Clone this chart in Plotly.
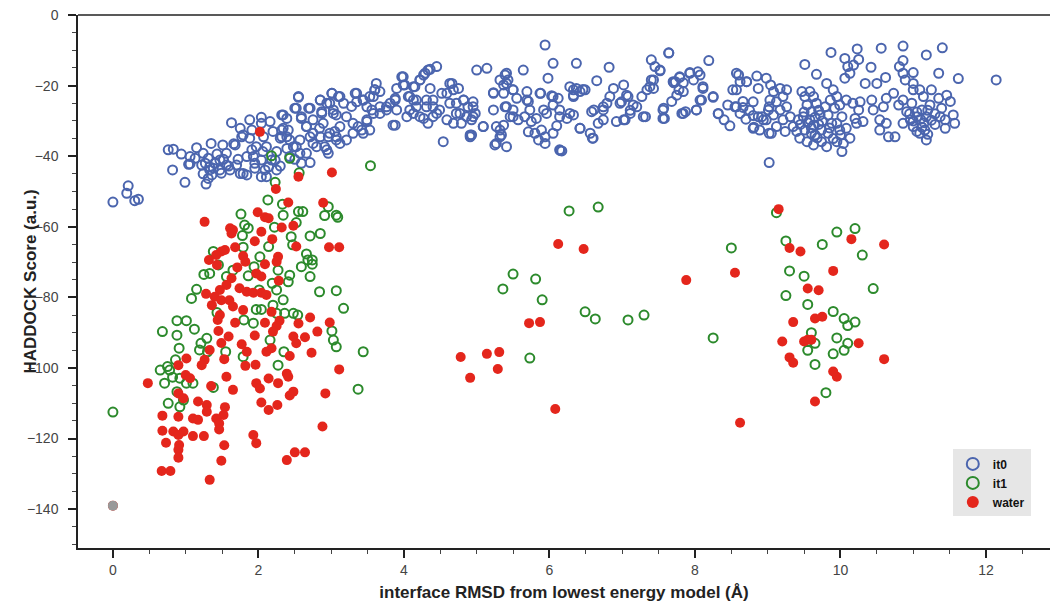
import plotly.graph_objects as go

# ---------------- data ----------------
it0_points = [
    (0.00, -53.0), (0.21, -48.4), (0.19, -50.5), (0.30, -52.6), (0.35, -52.2),
    (0.76, -38.2), (0.83, -38.0), (0.82, -43.9), (0.99, -47.4), (0.94, -39.4), (1.06, -40.1),
    (1.04, -42.3), (1.15, -37.6), (1.28, -47.9), (1.24, -39.2), (1.31, -40.6), (1.27, -42.0),
    (1.33, -43.0), (1.36, -45.3), (1.31, -46.3), (1.35, -36.4), (1.51, -36.8), (1.66, -36.5),
    (1.43, -39.4), (1.52, -40.9), (1.56, -42.5), (1.47, -43.9), (1.61, -43.9), (1.70, -42.5),
    (1.63, -30.5), (1.75, -32.1), (1.88, -29.7), (2.04, -29.0), (2.16, -30.2), (1.79, -34.0),
    (1.88, -34.9), (1.97, -37.3), (2.06, -38.7), (1.93, -40.1), (1.79, -44.9), (1.95, -43.4),
    (2.04, -45.8), (2.14, -43.0), (2.18, -41.1), (2.30, -42.8), (2.25, -38.7), (2.11, -37.3),
    (2.32, -28.3), (2.39, -29.3), (2.34, -32.1), (2.30, -34.9), (2.43, -35.4), (2.39, -37.8),
    (2.52, -37.3), (2.57, -39.2), (2.50, -40.9), (2.71, -41.8), (2.55, -23.3), (2.52, -26.4),
    (2.59, -29.3), (2.71, -26.4), (2.85, -24.1), (2.87, -27.9), (2.94, -25.0), (3.03, -26.9),
    (3.01, -22.2), (3.12, -23.1), (3.17, -25.0), (3.07, -28.3), (2.66, -31.6), (2.75, -33.5),
    (2.84, -32.1), (2.96, -34.5), (2.91, -37.3), (2.75, -36.4), (3.05, -33.0), (3.12, -36.4),
    (2.96, -39.2), (3.07, -34.5), (3.21, -35.4), (3.30, -33.5), (3.37, -31.6), (3.44, -33.5),
    (3.53, -32.6), (3.49, -30.2),
    (1.40, -42.0), (1.33, -43.9), (1.49, -44.8), (1.59, -42.8), (1.72, -40.9), (1.84, -40.1),
    (1.95, -42.0), (2.09, -43.9), (2.04, -41.1), (2.23, -41.1), (2.25, -43.9), (1.91, -38.2),
    (2.07, -34.5), (2.20, -33.0), (2.32, -34.5), (2.41, -32.6), (2.04, -30.7), (1.91, -32.6),
    (1.77, -34.5), (1.68, -36.8), (1.56, -39.2), (1.47, -41.1), (1.38, -43.4), (1.22, -42.5),
    (1.13, -40.6), (1.06, -42.2), (1.24, -45.0), (1.75, -44.9), (1.84, -45.3), (2.11, -45.8),
    (2.55, -23.1), (2.50, -26.4), (2.34, -28.3), (2.32, -32.6), (2.39, -34.5), (2.59, -28.8),
    (2.66, -31.6), (2.69, -26.4), (2.75, -29.7), (2.71, -34.5), (2.57, -35.4), (2.48, -37.3),
    (2.43, -40.1), (2.66, -39.2), (2.59, -42.0), (2.85, -24.1), (2.87, -27.4), (3.01, -22.2),
    (2.98, -25.0), (3.10, -23.1), (3.03, -27.9), (2.89, -30.7), (2.98, -33.5), (2.85, -34.5),
    (2.80, -37.3), (2.94, -38.2), (3.07, -35.4), (3.12, -31.6), (3.21, -28.8), (3.28, -25.9),
    (3.35, -22.2), (3.44, -24.1), (3.53, -23.1), (3.62, -19.4), (3.60, -21.2), (3.67, -21.7),
    (3.30, -30.7), (3.42, -32.6), (3.49, -29.7), (3.58, -27.9), (3.67, -26.0), (3.76, -26.9),
    (3.81, -25.0), (3.88, -23.6), (3.90, -20.8), (3.99, -17.5), (4.01, -19.8), (3.88, -31.2),
    (3.33, -22.2), (3.35, -24.6), (3.44, -24.1), (3.49, -26.0), (3.58, -23.1), (3.60, -21.2),
    (3.56, -26.9), (3.67, -27.9), (3.76, -26.0), (3.88, -24.1), (3.90, -26.9), (3.85, -31.2),
    (3.97, -17.5), (3.99, -19.8), (4.08, -23.1), (4.13, -20.3), (4.17, -24.1), (4.22, -18.4),
    (4.27, -17.0), (4.33, -15.6), (4.45, -14.6), (4.36, -20.8), (4.40, -24.1), (4.31, -26.0),
    (4.13, -27.9), (4.04, -28.8), (4.27, -29.3), (4.40, -28.8), (4.49, -26.9), (4.52, -22.2),
    (4.63, -19.4), (4.68, -21.2), (4.72, -25.0), (4.77, -27.9), (4.59, -29.7), (4.54, -35.9),
    (4.68, -30.7), (4.82, -24.1), (4.86, -28.8), (4.91, -34.0), (4.95, -26.0), (5.00, -15.6),
    (5.14, -15.1), (5.09, -31.6), (5.23, -22.2), (5.32, -18.4), (5.39, -17.0), (5.41, -19.4),
    (5.50, -21.2), (5.41, -26.0), (5.50, -28.8), (5.27, -36.4), (5.41, -37.3), (5.32, -34.5),
    (5.64, -15.6), (5.69, -24.1), (5.73, -26.9), (5.87, -22.2), (5.96, -27.9), (5.94, -8.5),
    (5.98, -17.9), (6.05, -13.7), (6.05, -23.1), (6.14, -28.8), (6.14, -38.2), (6.05, -33.5),
    (5.85, -35.4), (6.37, -13.7), (6.33, -21.2), (6.28, -27.9),
    (4.06, -23.1), (4.13, -24.1), (4.17, -26.0), (4.08, -26.9), (4.22, -28.8), (4.31, -24.1),
    (4.40, -26.0), (4.45, -27.9), (4.33, -30.7), (4.15, -20.3), (4.22, -18.4), (4.29, -16.5),
    (4.36, -15.4), (4.59, -22.2), (4.66, -19.4), (4.75, -20.8), (4.63, -25.0), (4.72, -27.9),
    (4.82, -24.1), (4.88, -26.0), (4.79, -30.7), (4.91, -34.5), (4.95, -28.8),
    (6.82, -14.8), (7.64, -10.8), (8.19, -12.9), (5.41, -16.5), (5.43, -18.4), (5.37, -19.8),
    (5.50, -21.2), (5.23, -22.0), (5.37, -22.2), (5.69, -21.7), (5.55, -23.6), (5.39, -26.0),
    (5.50, -26.9), (5.71, -24.5), (5.88, -22.2), (6.03, -22.9), (6.12, -23.6), (6.05, -25.5),
    (6.14, -26.9), (5.92, -26.9), (5.82, -29.3), (5.75, -30.2), (5.66, -28.8), (5.57, -29.7),
    (5.46, -28.8), (5.37, -31.2), (5.27, -31.6), (5.09, -31.6), (5.23, -26.9), (4.95, -24.6),
    (4.98, -27.9), (4.93, -29.7), (4.93, -34.0), (5.25, -36.8), (5.34, -34.0), (5.32, -32.6),
    (5.89, -32.6), (5.94, -34.5), (5.94, -36.4), (5.80, -33.5), (5.71, -33.1), (6.17, -38.5),
    (6.10, -31.4), (6.24, -29.3), (6.33, -28.3), (6.42, -32.1), (6.56, -33.5), (6.60, -34.9),
    (6.28, -20.3), (6.37, -20.8), (6.49, -21.2), (6.33, -22.7), (6.42, -21.7), (6.65, -18.6),
    (6.79, -25.0), (6.83, -23.1), (6.88, -20.8), (7.02, -19.8), (6.97, -25.0), (7.08, -23.1),
    (7.15, -25.5), (7.11, -27.9), (7.02, -29.7), (6.92, -30.2), (6.74, -29.7), (6.67, -30.7),
    (6.58, -27.4), (6.74, -26.9), (7.29, -28.8), (7.27, -23.1), (7.40, -12.7), (7.45, -14.6),
    (7.52, -15.6), (7.40, -18.4), (7.43, -20.8), (7.34, -21.2), (7.56, -26.9), (7.56, -29.3),
    (7.70, -18.9), (7.79, -17.5), (7.93, -16.5), (8.07, -17.0), (7.84, -21.7), (7.75, -22.7),
    (7.68, -24.5), (7.84, -27.9), (8.02, -26.9), (8.09, -24.1), (8.11, -20.3), (8.25, -23.1),
    (8.32, -27.9), (8.48, -31.4), (8.57, -16.5), (8.62, -18.9), (8.57, -21.2), (8.66, -24.5),
    (8.57, -26.0), (8.62, -27.9), (8.71, -18.9),
    (7.57, -26.4), (7.58, -29.3), (7.64, -10.7), (7.71, -19.2), (7.79, -17.7), (7.84, -19.2),
    (7.93, -16.3), (7.98, -18.4), (7.82, -27.9), (7.87, -27.4), (8.02, -26.9), (8.07, -24.1),
    (8.11, -20.8), (8.25, -23.3), (8.32, -28.0), (8.52, -21.2), (8.60, -17.0), (8.55, -26.0),
    (8.80, -32.1), (8.87, -28.8), (8.94, -29.7), (9.02, -26.0), (9.02, -33.5), (9.02, -41.8),
    (6.42, -32.1), (6.59, -34.9), (6.15, -38.4), (6.33, -23.1), (6.46, -21.1), (6.61, -26.9),
    (6.74, -26.0), (6.99, -24.6), (7.06, -22.7), (7.04, -29.7), (7.11, -27.0), (7.20, -26.0),
    (7.32, -28.8), (7.38, -20.3), (7.52, -15.8), (7.43, -18.4), (7.73, -18.9), (7.78, -21.2),
    (8.04, -16.1),
    (8.71, -18.9), (8.85, -17.3), (8.98, -17.9), (8.87, -20.8), (9.04, -19.8), (8.80, -24.6),
    (8.66, -26.2), (8.81, -31.8), (9.51, -14.0), (9.67, -16.8), (9.87, -10.6), (10.06, -12.3),
    (10.23, -9.6), (10.25, -12.6), (10.18, -14.2), (10.10, -14.6), (10.13, -16.5), (10.06, -17.9),
    (10.42, -14.8), (10.56, -9.4), (10.62, -17.7), (10.86, -8.8), (10.86, -12.9), (10.81, -14.6),
    (10.86, -16.5), (11.00, -16.3), (10.89, -18.4), (11.00, -19.4), (11.18, -11.3), (11.40, -9.3),
    (11.35, -16.5), (11.62, -18.0), (12.14, -18.4),
    (9.08, -21.7), (9.17, -20.8), (9.26, -21.2), (9.21, -23.1), (9.12, -24.6), (9.03, -24.1),
    (9.01, -26.9), (8.92, -28.8), (9.08, -28.3), (8.98, -29.7), (8.89, -32.6),
    (9.17, -26.9), (9.26, -26.0), (9.31, -28.8), (9.21, -29.7), (9.12, -31.6), (9.05, -33.5),
    (9.24, -33.0), (9.35, -31.6), (9.42, -29.7), (9.47, -21.7), (9.51, -23.1), (9.58, -21.7),
    (9.63, -23.1), (9.54, -25.5), (9.67, -25.0), (9.60, -27.4), (9.49, -28.8), (9.58, -29.7),
    (9.72, -28.3), (9.63, -31.2), (9.51, -32.6), (9.44, -34.9), (9.54, -35.9), (9.65, -34.0),
    (9.74, -32.6), (9.74, -35.9), (9.63, -36.8), (9.81, -37.3), (9.83, -33.5), (9.88, -30.7),
    (9.83, -28.3), (9.79, -26.0), (9.86, -24.1), (9.95, -23.1), (9.99, -25.5), (9.92, -26.4),
    (10.02, -28.8), (9.95, -30.7), (9.99, -32.6), (10.08, -32.1), (10.13, -34.9), (10.04, -36.4),
    (9.95, -35.9), (10.02, -38.7), (9.81, -19.4), (9.90, -21.2), (10.08, -24.1), (10.17, -25.0),
    (10.25, -26.9), (10.27, -24.6), (10.20, -29.3), (10.31, -30.2), (10.22, -30.7), (10.34, -19.4),
    (10.43, -24.1), (10.50, -19.4), (10.45, -26.9), (10.54, -29.7), (10.54, -32.6), (10.66, -34.5),
    (10.75, -34.5), (10.63, -30.7), (10.59, -26.0), (10.63, -23.6), (10.73, -22.2), (10.80, -25.5),
    (10.86, -24.1), (10.91, -27.4), (10.96, -29.7), (10.86, -30.7), (11.00, -31.6), (11.05, -28.8),
    (11.12, -26.9), (11.18, -28.8), (11.16, -32.6), (11.18, -35.4), (11.09, -33.5), (10.98, -25.0),
    (11.09, -21.2), (11.14, -23.1), (11.23, -25.5), (11.25, -21.2), (11.35, -23.6), (11.37, -28.8),
    (11.39, -26.4), (11.46, -22.7), (11.51, -24.5), (11.44, -29.7), (11.44, -32.1), (11.55, -28.3),
    (11.57, -30.7), (11.00, -21.2),
    (9.55, -30.5), (9.60, -32.0), (9.65, -29.0), (9.70, -31.0), (9.75, -30.0), (9.60, -33.5),
    (9.68, -34.8), (9.45, -31.0), (9.50, -27.5), (9.40, -33.0), (9.85, -32.0), (9.90, -35.0),
    (10.00, -34.0), (9.70, -27.0), (11.05, -27.5), (11.10, -29.5), (11.15, -30.5), (11.20, -27.0),
    (11.25, -29.8), (11.30, -31.0), (11.00, -30.0), (11.05, -33.0), (11.12, -31.8), (11.20, -33.8),
    (11.30, -28.0), (10.95, -28.0), (8.75, -27.0), (8.70, -29.5), (8.80, -28.5), (8.45, -25.5),
    (8.40, -29.7),
]

it1_points = [
    (0.00, -112.5), (2.18, -39.9), (2.43, -40.6), (2.56, -44.7), (3.54, -42.7), (2.23, -47.4),
    (2.13, -52.4), (2.33, -53.6), (2.55, -55.7), (2.61, -55.7), (2.96, -54.3), (2.91, -56.8),
    (3.07, -56.7), (3.09, -57.3), (1.76, -56.4), (2.34, -56.7), (2.52, -58.8), (1.81, -59.5),
    (1.86, -60.4), (2.22, -60.1), (2.71, -62.6), (2.85, -61.9), (1.78, -62.5), (1.79, -65.8),
    (2.45, -62.8), (2.47, -65.1), (2.14, -65.6), (1.38, -67.0), (2.66, -67.7), (2.68, -69.4),
    (2.74, -69.4), (2.74, -70.6), (2.59, -71.3), (2.02, -68.5), (1.45, -70.8), (1.33, -73.2),
    (1.25, -73.5), (1.94, -71.3), (1.65, -72.3), (1.56, -74.1), (2.27, -72.3), (2.43, -73.7),
    (2.41, -75.6), (1.86, -73.9), (2.71, -74.1), (2.19, -76.0), (2.25, -77.9), (2.34, -80.7),
    (1.15, -77.7), (1.08, -80.3), (2.84, -78.4), (3.07, -78.1), (2.01, -77.9), (3.17, -83.1),
    (1.97, -83.4), (2.04, -83.4), (2.20, -82.2), (2.25, -84.5), (1.43, -84.3), (2.36, -84.5),
    (2.48, -84.5), (2.54, -85.0), (1.80, -86.4), (1.93, -87.3), (0.88, -86.6), (1.01, -86.6),
    (1.12, -89.0), (0.68, -89.7), (0.88, -90.7), (3.01, -89.5), (3.03, -92.1), (3.07, -94.0),
    (2.16, -92.1), (1.29, -91.6), (1.21, -93.0), (1.19, -94.9), (1.30, -95.4), (1.55, -95.4),
    (2.35, -95.4), (0.91, -94.4), (3.44, -95.4), (1.79, -96.8), (0.86, -97.7), (0.75, -99.6),
    (0.65, -100.6), (0.78, -100.6), (0.82, -102.6), (0.71, -104.3), (0.92, -102.9), (2.27, -99.2),
    (1.01, -104.3), (1.10, -104.3), (1.38, -105.5), (3.37, -106.0), (0.88, -106.7), (0.76, -110.0),
    (0.92, -111.0), (0.97, -109.1),
    (6.27, -55.5), (6.67, -54.4), (5.50, -73.4), (5.81, -74.8), (5.36, -77.6), (5.90, -80.7),
    (6.49, -84.1), (6.63, -86.1), (7.08, -86.4), (7.30, -85.0), (5.73, -97.2),
    (8.25, -91.5), (8.50, -66.0), (9.12, -56.0), (9.25, -64.0), (9.30, -72.5), (9.25, -79.5),
    (9.50, -74.0), (9.55, -82.0), (9.55, -92.5), (9.60, -90.0), (9.55, -95.0), (9.65, -99.0),
    (9.75, -65.0), (9.80, -107.0), (9.90, -84.0), (9.95, -91.5), (9.90, -96.0), (9.95, -61.5),
    (10.05, -95.0), (10.05, -86.0), (10.10, -93.0), (10.10, -88.0), (10.20, -60.5), (10.20, -87.0),
    (10.30, -68.0), (10.45, -77.5), (9.65, -93.0),
]

water_points = [
    (0.00, -139.0), (2.02, -33.1), (3.01, -44.6), (2.55, -45.8), (2.24, -49.3), (2.41, -53.1),
    (2.89, -53.2), (1.99, -55.9), (2.09, -57.3), (2.14, -57.6), (1.26, -58.6), (2.32, -60.2),
    (2.48, -59.7), (1.61, -60.4), (1.65, -60.9), (1.63, -61.9), (2.04, -61.4), (1.95, -64.1),
    (2.19, -63.5), (2.52, -65.6), (2.97, -65.8), (3.11, -65.8), (1.54, -66.6), (1.49, -67.0),
    (1.68, -65.8), (1.42, -68.0), (1.32, -69.4), (1.79, -68.3), (1.82, -69.9), (2.27, -68.5),
    (2.25, -69.9), (2.09, -70.6), (1.43, -70.8), (1.71, -71.5), (1.97, -73.2), (2.04, -74.1),
    (2.28, -75.3), (1.63, -74.6), (1.56, -76.5), (1.74, -77.4), (1.84, -78.4), (1.93, -78.7),
    (2.04, -78.7), (2.11, -79.3), (1.28, -79.0), (1.47, -77.9), (1.40, -79.8), (1.36, -82.2),
    (1.49, -80.8), (1.60, -80.8), (1.65, -82.6), (1.79, -83.6), (2.18, -84.1), (2.71, -85.7),
    (2.98, -87.1), (2.55, -87.4), (1.47, -85.0), (1.44, -86.4), (1.68, -87.2), (2.09, -87.2),
    (2.29, -86.6), (2.25, -88.1), (2.20, -89.7), (1.45, -89.5), (1.95, -90.8), (1.59, -91.1),
    (1.49, -92.9), (1.77, -93.3), (2.48, -91.1), (2.52, -93.0), (2.64, -91.3), (2.81, -89.7),
    (2.11, -95.4), (2.18, -94.4), (2.73, -95.7), (2.43, -96.6), (1.84, -95.4), (1.33, -94.9),
    (1.26, -97.7), (1.22, -99.2), (1.53, -97.5), (1.01, -97.3), (0.90, -99.2), (1.82, -99.4),
    (1.96, -99.1), (3.11, -100.4), (1.00, -102.0), (1.06, -102.9), (1.56, -102.5), (2.39, -101.6),
    (2.41, -102.5), (2.14, -103.0), (1.97, -104.3), (2.02, -105.8), (2.27, -104.3), (0.48, -104.3),
    (1.65, -106.2), (2.48, -106.7), (2.43, -107.8), (2.92, -107.2), (1.35, -105.1), (0.90, -107.2),
    (0.97, -108.6), (2.04, -109.8), (2.26, -110.5), (2.14, -111.9), (1.17, -109.5), (1.29, -110.5),
    (1.29, -112.4), (1.54, -111.1), (1.52, -113.3), (1.10, -114.3), (1.17, -114.7), (1.42, -114.3),
    (1.46, -115.7), (0.90, -113.8), (0.68, -113.5), (2.88, -116.6), (0.68, -117.8), (0.83, -118.0),
    (0.97, -118.0), (0.90, -119.0), (1.10, -119.3), (1.25, -119.3), (1.46, -117.4), (1.93, -119.0),
    (1.97, -121.3), (0.73, -121.2), (0.91, -121.8), (0.90, -123.2), (1.53, -121.9), (2.50, -123.9),
    (2.64, -123.9), (2.39, -126.1), (0.90, -125.4), (1.49, -126.3), (0.67, -129.2), (0.79, -129.2),
    (1.33, -131.7),
    (6.12, -64.9), (6.47, -66.3), (7.88, -75.1), (5.72, -87.3), (5.87, -87.0), (4.78, -96.9),
    (5.14, -96.0), (5.31, -95.5), (5.29, -100.3), (4.91, -102.8), (6.08, -111.6),
    (8.55, -73.0), (8.62, -115.5), (9.15, -55.0), (9.20, -92.5), (9.30, -66.0), (9.30, -97.0),
    (9.35, -87.0), (9.45, -67.0), (9.50, -92.5), (9.55, -77.5), (9.55, -92.0), (9.60, -92.0),
    (9.65, -86.0), (9.70, -78.0), (9.75, -85.5), (9.90, -72.5), (9.95, -102.5), (9.90, -101.0),
    (9.65, -109.5), (10.15, -63.5), (10.25, -93.0), (10.60, -65.0), (10.60, -97.5), (9.35, -98.5),
]

reference_points = [(0.00, -139.0)]

x_tick_values = [0, 2, 4, 6, 8, 10, 12]
y_tick_values = [0, -20, -40, -60, -80, -100, -120, -140]


def xs(points):
    return [p[0] for p in points]


def ys(points):
    return [p[1] for p in points]


BLUE = "#4b65ae"
GREEN = "#2c8a2c"
RED = "#e4261c"

fig = go.Figure()
fig.add_trace(go.Scatter(
    x=xs(it0_points), y=ys(it0_points), mode="markers", name="it0",
    marker=dict(symbol="circle-open", size=9, color=BLUE, line=dict(width=2, color=BLUE)),
))
fig.add_trace(go.Scatter(
    x=xs(it1_points), y=ys(it1_points), mode="markers", name="it1",
    marker=dict(symbol="circle-open", size=9, color=GREEN, line=dict(width=2, color=GREEN)),
))
fig.add_trace(go.Scatter(
    x=xs(water_points), y=ys(water_points), mode="markers", name="water",
    marker=dict(symbol="circle", size=10, color=RED, line=dict(width=0)),
))
fig.add_trace(go.Scatter(
    x=xs(reference_points), y=ys(reference_points), mode="markers", name="reference",
    showlegend=False,
    marker=dict(symbol="circle", size=10, color="#999999", line=dict(width=0)),
))

tick_font = dict(family="Liberation Sans Narrow, Arial Narrow, Liberation Sans, Arial", size=14, color="#444444")
title_font = dict(family="Liberation Sans, Arial", size=17, color="#222222", weight="bold")

fig.update_layout(
    width=1052, height=602,
    margin=dict(l=78, r=2, t=15, b=54, autoexpand=False),
    paper_bgcolor="white", plot_bgcolor="white",
    showlegend=True,
    legend=dict(
        x=0.9, y=0.185, xanchor="left", yanchor="top",
        bgcolor="#e6e6e6", borderwidth=0,
        font=dict(family="Liberation Sans, Arial", size=12, color="#111111", weight="bold"),
        itemsizing="constant", tracegroupgap=0, itemwidth=30,
    ),
    xaxis=dict(
        range=[-0.48, 12.88], tickvals=x_tick_values, automargin=False,
        ticks="outside", ticklen=8, tickwidth=1.5, tickcolor="#222",
        minor=dict(dtick=0.5, ticks="outside", ticklen=4, tickwidth=1, tickcolor="#444"),
        showline=True, linecolor="#222", linewidth=1.5,
        showgrid=False, zeroline=False, ticklabeloverflow="allow",
        tickfont=tick_font,
        title=dict(text="interface RMSD from lowest energy model (Å)", font=title_font, standoff=10),
    ),
    yaxis=dict(
        range=[-151, 0], tickvals=y_tick_values, automargin=False,
        ticks="outside", ticklen=8, tickwidth=1.5, tickcolor="#222",
        ticklabelstandoff=7, ticklabeloverflow="allow",
        minor=dict(dtick=5, ticks="outside", ticklen=4, tickwidth=1, tickcolor="#444"),
        showline=True, linecolor="#222", linewidth=1.5,
        showgrid=False, zeroline=False,
        tickfont=tick_font,
    ),
    annotations=[dict(
        text="HADDOCK Score (a.u.)", textangle=-90, font=title_font,
        xref="paper", yref="paper", x=0, y=0.5, xanchor="center", yanchor="middle",
        xshift=-48, showarrow=False,
    )],
    shapes=[dict(type="line", xref="paper", yref="paper", x0=0, x1=1, y0=1, y1=1,
                 line=dict(color="#222", width=1.5))],
)

# remove the browser's default 8px body margin so the figure sits at the page origin
fig.write_html("out.html", config={"displayModeBar": False},
               post_script="document.body.style.margin='0';")
